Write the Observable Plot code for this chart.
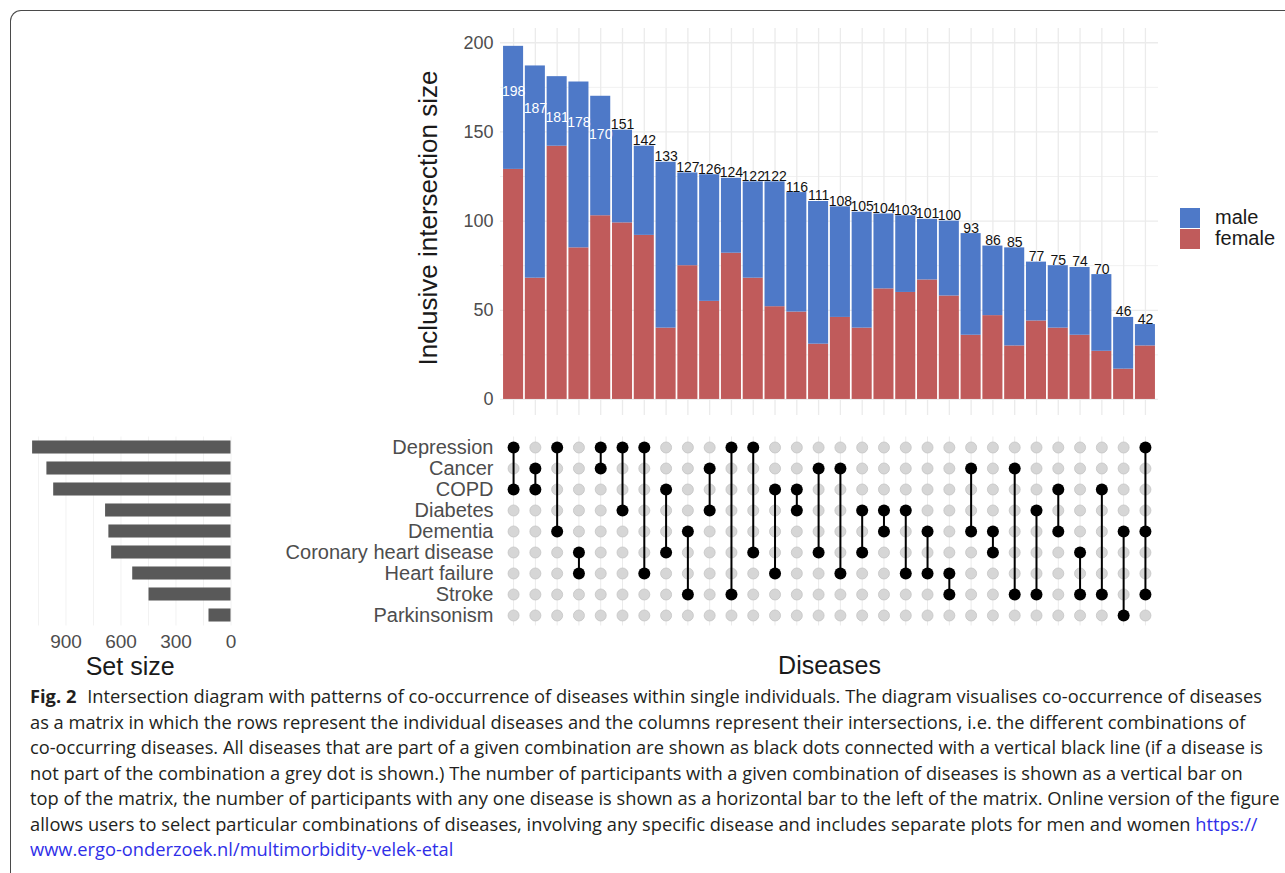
<!DOCTYPE html>
<html>
<head>
<meta charset="utf-8">
<script src="https://cdn.jsdelivr.net/npm/d3@7"></script>
<script src="https://cdn.jsdelivr.net/npm/@observablehq/plot@0.6"></script>
<style>
html, body { margin: 0; padding: 0; background: #fff; }
#fig { position: relative; width: 1285px; height: 873px; overflow: hidden; background: #fff; font-family: "Liberation Sans", Arial, sans-serif; }
#frame { position: absolute; left: 10px; top: 10px; width: 1320px; height: 920px; border-top: 1.4px solid #4a4a4a; border-left: 1.4px solid #4a4a4a; border-top-left-radius: 11px; box-sizing: border-box; }
.abs { position: absolute; }
#legend { position: absolute; left: 1180px; top: 207px; font-size: 20px; color: #1a1a1a; }
#legend .row { display: flex; align-items: center; height: 21px; }
#legend .sw { width: 20px; height: 20px; margin-right: 15px; }
#caption { position: absolute; left: 30px; top: 684px; font-family: "Open Sans", sans-serif; font-size: 18px; line-height: 25.5px; color: #231f20; transform-origin: 0 0; white-space: nowrap; }
#caption .ln { display: block; width: max-content; }
#caption b { font-weight: 700; margin-right: 6px; }
#caption a { color: #2f2fe8; text-decoration: none; }
</style>
</head>
<body>
<div id="fig">
  <div id="frame"></div>
  <div id="legend"></div>
  <div id="caption">
    <div class="ln"><b>Fig. 2</b>&nbsp;Intersection diagram with patterns of co-occurrence of diseases within single individuals. The diagram visualises co-occurrence of diseases</div>
    <div class="ln">as a matrix in which the rows represent the individual diseases and the columns represent their intersections, i.e. the different combinations of</div>
    <div class="ln">co-occurring diseases. All diseases that are part of a given combination are shown as black dots connected with a vertical black line (if a disease is</div>
    <div class="ln">not part of the combination a grey dot is shown.) The number of participants with a given combination of diseases is shown as a vertical bar on</div>
    <div class="ln">top of the matrix, the number of participants with any one disease is shown as a horizontal bar to the left of the matrix. Online version of the figure</div>
    <div class="ln">allows users to select particular combinations of diseases, involving any specific disease and includes separate plots for men and women <a>https://</a></div>
    <div class="ln"><a>www.ergo-onderzoek.nl/multimorbidity-velek-etal</a></div>
  </div>
</div>
<script>
// ---------------- data ----------------
const diseases = ["Depression", "Cancer", "COPD", "Diabetes", "Dementia",
  "Coronary heart disease", "Heart failure", "Stroke", "Parkinsonism"];
const setSizes = [1082, 1004, 967, 684, 666, 651, 536, 447, 120];

const totals = [198, 187, 181, 178, 170, 151, 142, 133, 127, 126, 124, 122, 122, 116, 111,
  108, 105, 104, 103, 101, 100, 93, 86, 85, 77, 75, 74, 70, 46, 42];
const femaleCounts = [129, 68, 142, 85, 103, 99, 92, 40, 75, 55, 82, 68, 52, 49, 31,
  46, 40, 62, 60, 67, 58, 36, 47, 30, 44, 40, 36, 27, 17, 30];

const combinations = [
  ["Depression", "COPD"],
  ["Cancer", "COPD"],
  ["Depression", "Dementia"],
  ["Coronary heart disease", "Heart failure"],
  ["Depression", "Cancer"],
  ["Depression", "Diabetes"],
  ["Depression", "Heart failure"],
  ["COPD", "Coronary heart disease"],
  ["Dementia", "Stroke"],
  ["Cancer", "Diabetes"],
  ["Depression", "Stroke"],
  ["Depression", "Coronary heart disease"],
  ["COPD", "Heart failure"],
  ["COPD", "Diabetes"],
  ["Cancer", "Coronary heart disease"],
  ["Cancer", "Heart failure"],
  ["Diabetes", "Coronary heart disease"],
  ["Diabetes", "Dementia"],
  ["Diabetes", "Heart failure"],
  ["Dementia", "Heart failure"],
  ["Heart failure", "Stroke"],
  ["Cancer", "Dementia"],
  ["Dementia", "Coronary heart disease"],
  ["Cancer", "Stroke"],
  ["Diabetes", "Stroke"],
  ["COPD", "Dementia"],
  ["Coronary heart disease", "Stroke"],
  ["COPD", "Stroke"],
  ["Dementia", "Parkinsonism"],
  ["Depression", "Dementia", "Stroke"]
];

const sexes = ["male", "female"];
const sexColors = ["#4E79C8", "#C05B5B"];
const yTicks = [0, 50, 100, 150, 200];
const yMinorTicks = [25, 75, 125, 175];
const setTicks = [0, 300, 600, 900];
const setGrid = [0, 150, 300, 450, 600, 750, 900, 1050];

// ---------------- derived tables ----------------
const cols = totals.map((_, i) => i);
const stacked = cols.flatMap(i => [
  {col: i, sex: "female", value: femaleCounts[i]},
  {col: i, sex: "male", value: totals[i] - femaleCounts[i]}
]);
const labels = cols.map(i => ({col: i, total: totals[i], inside: totals[i] > 160}));
const cells = cols.flatMap(i => diseases.map(d => ({col: i, disease: d, on: combinations[i].includes(d)})));
const setData = diseases.map((d, i) => ({disease: d, size: setSizes[i]}));

const font = '"Liberation Sans", Arial, Helvetica, sans-serif';
const xBand = {type: "band", domain: cols, paddingInner: 0.08, paddingOuter: 0.14, align: 0.5, round: false, axis: null};
const fig = document.getElementById("fig");

function place(node, left, top) {
  node.classList.add("abs");
  node.style.left = left + "px";
  node.style.top = top + "px";
  fig.appendChild(node);
}

// ---------------- intersection bars ----------------
const bars = Plot.plot({
  width: 1285, height: 420,
  marginLeft: 500, marginRight: 127, marginTop: 28, marginBottom: 5,
  style: {background: "transparent", fontFamily: font, fontSize: "18px", color: "#4d4d4d", overflow: "visible"},
  x: xBand,
  y: {domain: [-9, 208], ticks: yTicks, tickSize: 0, tickPadding: 7, label: null},
  color: {domain: sexes, range: sexColors},
  marks: [
    Plot.ruleY(yMinorTicks, {stroke: "#f1f1f1", strokeWidth: 1}),
    Plot.ruleY(yTicks, {stroke: "#ebebeb", strokeWidth: 1.3}),
    Plot.ruleX(cols, {x: d => d, stroke: "#ebebeb", strokeWidth: 1.3}),
    Plot.barY(stacked, {x: "col", y: "value", fill: "sex", order: ["female", "male"]}),
    Plot.text(labels.filter(d => !d.inside), {x: "col", y: "total", text: "total", lineAnchor: "bottom", dy: -1, fontSize: 14, fill: "#111"}),
    Plot.text(labels.filter(d => d.inside), {x: "col", y: d => d.total * 0.873, text: "total", lineAnchor: "middle", fontSize: 14, fill: "white"}),
    Plot.text(["Inclusive intersection size"], {frameAnchor: "left", textAnchor: "middle", lineAnchor: "middle", rotate: -90, dx: -72, dy: -4, fontSize: 26, fill: "#1a1a1a"})
  ]
});
place(bars, 0, 0);

// ---------------- matrix ----------------
const matrix = Plot.plot({
  width: 1285, height: 260,
  marginLeft: 500, marginRight: 127, marginTop: 16.5, marginBottom: 54.5,
  style: {background: "transparent", fontFamily: font, fontSize: "20px", color: "#4d4d4d", overflow: "visible"},
  x: xBand,
  y: {type: "band", domain: diseases, padding: 0, round: false, tickSize: 0, tickPadding: 7, label: null},
  marks: [
    Plot.ruleX(cols, {x: d => d, stroke: "#ebebeb", strokeWidth: 1}),
    Plot.dot(cells.filter(d => !d.on), {x: "col", y: "disease", r: 5.5, fill: "#d6d6d6", stroke: "#c4c4c4", strokeWidth: 0.8}),
    Plot.line(cells.filter(d => d.on), {x: "col", y: "disease", z: "col", stroke: "black", strokeWidth: 2}),
    Plot.dot(cells.filter(d => d.on), {x: "col", y: "disease", r: 6, fill: "black"}),
    Plot.text(["Diseases"], {frameAnchor: "bottom", textAnchor: "middle", lineAnchor: "middle", dy: 40, fontSize: 25, fill: "#1a1a1a"})
  ]
});
place(matrix, 0, 420);

// ---------------- set sizes ----------------
const setPlot = Plot.plot({
  width: 250, height: 260,
  marginLeft: 28.8, marginRight: 19.5, marginTop: 16.5, marginBottom: 54.5,
  style: {background: "transparent", fontFamily: font, fontSize: "19px", color: "#4d4d4d", overflow: "visible"},
  x: {domain: [0, 1100], reverse: true, ticks: setTicks, tickSize: 0, tickPadding: 8, label: null},
  y: {type: "band", domain: diseases, paddingInner: 0.38, paddingOuter: 0.19, align: 0.5, round: false, axis: null},
  marks: [
    Plot.ruleX(setGrid, {stroke: "#f2f2f2"}),
    Plot.barX(setData, {x: "size", y: "disease", fill: "#595959"}),
    Plot.text(["Set size"], {frameAnchor: "bottom", textAnchor: "middle", lineAnchor: "middle", dy: 41, fontSize: 25, fill: "#1a1a1a"})
  ]
});
place(setPlot, 0, 420);

// ---------------- legend ----------------
const legend = document.getElementById("legend");
sexes.forEach((s, i) => {
  const row = document.createElement("div");
  row.className = "row";
  const sw = document.createElement("div");
  sw.className = "sw";
  sw.style.background = sexColors[i];
  const t = document.createElement("span");
  t.textContent = s;
  row.appendChild(sw); row.appendChild(t);
  legend.appendChild(row);
});

// ---------------- caption fit ----------------
function fitCaption() {
  const cap = document.getElementById("caption");
  cap.style.transform = "none";
  const w = cap.firstElementChild.getBoundingClientRect().width;
  cap.style.transform = "scaleX(" + (1232 / w) + ")";
}
fitCaption();
if (document.fonts && document.fonts.ready) document.fonts.ready.then(fitCaption);
</script>
</body>
</html>
